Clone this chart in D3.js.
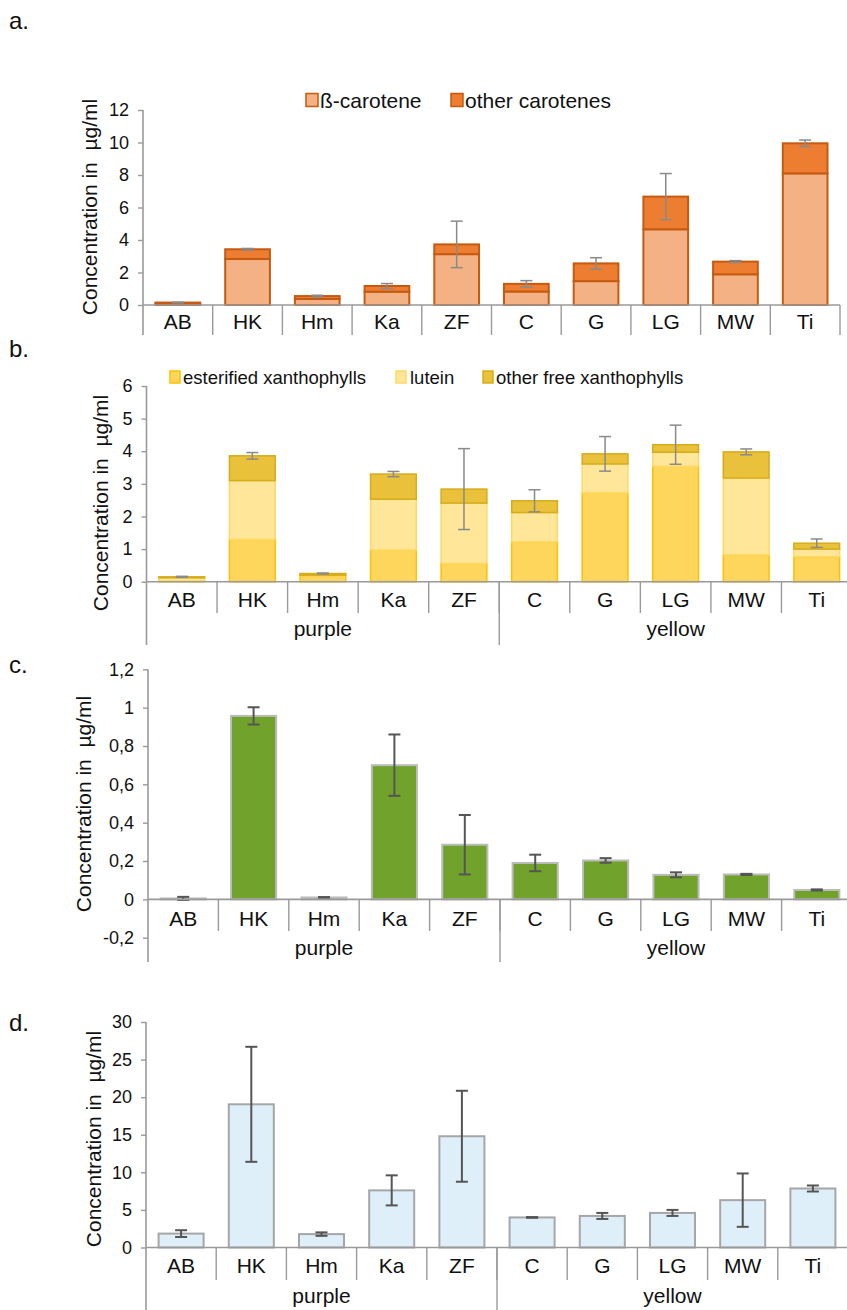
<!DOCTYPE html>
<html><head><meta charset="utf-8">
<script src="https://cdn.jsdelivr.net/npm/d3@7"></script>
<style>
body{margin:0;background:#fff}
svg{display:block;font-family:"Liberation Sans",Arial,sans-serif}
</style>
</head><body>
<svg id="chart" width="847" height="1310"></svg>
<script>
// ---------- DATA ----------
const categories = ["AB","HK","Hm","Ka","ZF","C","G","LG","MW","Ti"];
const groupNames = ["purple","yellow"];
const groupSizes = [5,5];

// a. carotenes (µg/ml)
const betaCarotene   = [0.08, 2.83, 0.37, 0.82, 3.13, 0.83, 1.47, 4.66, 1.89, 8.10];
const otherCarotenes = [0.07, 0.60, 0.18, 0.35, 0.60, 0.47, 1.09, 2.01, 0.78, 1.85];
const carotenesErr   = [0.02, 0.05, 0.05, 0.15, 1.43, 0.20, 0.35, 1.42, 0.06, 0.20];

// b. xanthophylls (µg/ml)
const esterifiedXanth = [0.02, 1.30, 0.18, 0.97, 0.56, 1.22, 2.72, 3.54, 0.82, 0.77];
const lutein          = [0.10, 1.80, 0.02, 1.56, 1.85, 0.90, 0.89, 0.43, 2.36, 0.23];
const otherFreeXanth  = [0.03, 0.76, 0.05, 0.77, 0.43, 0.36, 0.31, 0.23, 0.80, 0.18];
const xanthErr        = [0.015, 0.10, 0.015, 0.08, 1.24, 0.34, 0.53, 0.60, 0.09, 0.13];

// c. (µg/ml)
const panelCValues = [0.005, 0.957, 0.010, 0.700, 0.285, 0.190, 0.203, 0.128, 0.130, 0.049];
const panelCErr    = [0.008, 0.045, 0.002, 0.160, 0.155, 0.043, 0.012, 0.013, 0.003, 0.003];

// d. (µg/ml)
const panelDValues = [1.85, 19.05, 1.78, 7.60, 14.80, 4.00, 4.20, 4.60, 6.30, 7.85];
const panelDErr    = [0.45, 7.65, 0.23, 2.00, 6.05, 0.05, 0.40, 0.40, 3.55, 0.40];

const ticksA = [0,2,4,6,8,10,12];
const ticksB = [0,1,2,3,4,5,6];
const ticksC = [-0.2,0,0.2,0.4,0.6,0.8,1,1.2];
const ticksD = [0,5,10,15,20,25,30];

const yTitle = "Concentration in  \u00b5g/ml";

// ---------- DRAW ----------
const svg = d3.select("#chart");
svg.append("rect").attr("width",847).attr("height",1310).attr("fill","#fff");
const FONT = '"Liberation Sans",Arial,sans-serif';
const axisColor = "#9a9a9a";
const fmtComma = d => String(+d.toFixed(1)).replace(".", ",");

function panel(cfg){
  const g = svg.append("g");
  const x = d3.scaleBand().domain(categories)
    .range([cfg.x0, cfg.x0 + cfg.w]).paddingInner(0.33).paddingOuter(0.165);
  const y = d3.scaleLinear().domain(cfg.domain).range([cfg.yBottom, cfg.yTop]);
  const step = x.step();
  const edge = c => x(c) - step * x.paddingInner() / 2;

  // panel letter
  g.append("text").attr("x", 9).attr("y", cfg.letterY)
    .attr("font-size", 24).attr("fill","#111").text(cfg.letter);

  // y axis
  const ax = g.append("g").attr("transform", `translate(${cfg.x0},0)`)
    .call(d3.axisLeft(y).tickValues(cfg.ticks).tickSize(5).tickPadding(9).tickFormat(fmtComma));
  ax.attr("font-family", null).attr("font-size", null);
  ax.select(".domain").remove();
  ax.selectAll(".tick line").attr("stroke", axisColor).attr("stroke-width", 1.4);
  ax.selectAll(".tick text").attr("font-size", cfg.tickFont).attr("fill", "#111")
    .attr("font-family", FONT);

  const y0 = y(0);
  g.append("line").attr("x1", cfg.x0).attr("x2", cfg.x0)
    .attr("y1", cfg.yTop).attr("y2", cfg.groupBottom)
    .attr("stroke", axisColor).attr("stroke-width", 1.6);

  g.append("text")
    .attr("transform", `translate(${cfg.titleX},${cfg.titleY}) rotate(-90)`)
    .attr("text-anchor", "middle").attr("dominant-baseline", "central")
    .attr("font-size", 21).attr("fill", "#111")
    .style("white-space","pre").text(yTitle);

  cfg.drawBars(g, x, y);

  const cap = 6;
  const eg = g.append("g").attr("stroke", cfg.errColor).attr("stroke-width", cfg.errWidth);
  categories.forEach((c, i) => {
    const cx = x(c) + x.bandwidth() / 2;
    const m = cfg.totals[i], e = cfg.err[i];
    eg.append("line").attr("x1", cx).attr("x2", cx).attr("y1", y(m + e)).attr("y2", y(m - e));
    eg.append("line").attr("x1", cx - cap).attr("x2", cx + cap).attr("y1", y(m + e)).attr("y2", y(m + e));
    eg.append("line").attr("x1", cx - cap).attr("x2", cx + cap).attr("y1", y(m - e)).attr("y2", y(m - e));
  });

  g.append("line").attr("x1", cfg.x0).attr("x2", cfg.x0 + cfg.w)
    .attr("y1", y0).attr("y2", y0).attr("stroke", axisColor).attr("stroke-width", 1.6);

  categories.forEach((c, i) => {
    if (i > 0) g.append("line").attr("x1", edge(c)).attr("x2", edge(c))
      .attr("y1", y0).attr("y2", cfg.tickBottom).attr("stroke", axisColor).attr("stroke-width", 1.4);
    g.append("text").attr("x", x(c) + x.bandwidth() / 2).attr("y", cfg.catY)
      .attr("text-anchor", "middle").attr("font-size", 21).attr("fill", "#111").text(c);
  });
  g.append("line").attr("x1", cfg.x0 + cfg.w).attr("x2", cfg.x0 + cfg.w)
    .attr("y1", y0).attr("y2", cfg.groups ? cfg.groupBottom : cfg.tickBottom)
    .attr("stroke", axisColor).attr("stroke-width", 1.4);

  if (cfg.groups) {
    let start = 0;
    groupNames.forEach((name, gi) => {
      const first = categories[start];
      const last = categories[start + groupSizes[gi] - 1];
      const left = edge(first), right = edge(last) + step;
      if (gi > 0) g.append("line").attr("x1", left).attr("x2", left)
        .attr("y1", y0).attr("y2", cfg.groupBottom).attr("stroke", axisColor).attr("stroke-width", 1.4);
      g.append("text").attr("x", (left + right) / 2).attr("y", cfg.groupY)
        .attr("text-anchor", "middle").attr("font-size", 21).attr("fill", "#111").text(name);
      start += groupSizes[gi];
    });
  }
  return {x, y};
}

function stackedBars(keys, arrays, fills, strokes, strokeW){
  return (g, x, y) => {
    const rows = categories.map((c, i) => {
      const r = {cat: c};
      keys.forEach((k, j) => r[k] = arrays[j][i]);
      return r;
    });
    const series = d3.stack().keys(keys)(rows);
    series.forEach((s, j) => {
      g.append("g").selectAll("rect").data(s).join("rect")
        .attr("x", d => x(d.data.cat) + strokeW / 2)
        .attr("width", x.bandwidth() - strokeW)
        .attr("y", d => y(d[1]))
        .attr("height", d => Math.max(0, y(d[0]) - y(d[1])))
        .attr("fill", fills[j]).attr("stroke", strokes[j]).attr("stroke-width", strokeW);
    });
  };
}

function simpleBars(values, fill, stroke, strokeW){
  return (g, x, y) => {
    g.append("g").selectAll("rect").data(values).join("rect")
      .attr("x", (d, i) => x(categories[i]) + strokeW / 2)
      .attr("width", x.bandwidth() - strokeW)
      .attr("y", d => y(Math.max(0, d)))
      .attr("height", d => Math.abs(y(0) - y(d)))
      .attr("fill", fill).attr("stroke", stroke).attr("stroke-width", strokeW);
  };
}

function legend(items, yC, fontSize, sw, sh){
  const g = svg.append("g");
  items.forEach(it => {
    g.append("rect").attr("x", it.x).attr("y", yC - sh / 2).attr("width", sw).attr("height", sh)
      .attr("fill", it.fill).attr("stroke", it.stroke).attr("stroke-width", 1.5);
    g.append("text").attr("x", it.tx).attr("y", yC).attr("dominant-baseline", "central")
      .attr("font-size", fontSize).attr("fill", "#111").text(it.label);
  });
}

const cBetaFill = "#F4B183", cOtherFill = "#ED7D31", cCarStroke = "#C55A11";
const cEstFill = "#FFD65C", cEstStroke = "#FFC000";
const cLutFill = "#FFE699", cLutStroke = "#FFD966";
const cOfxFill = "#E9C13A", cOfxStroke = "#D6AC1A";

const sum = (...arrs) => categories.map((c, i) => arrs.reduce((s, a) => s + a[i], 0));

// a
panel({
  letter: "a.", letterY: 29, x0: 143, w: 697, yTop: 110, yBottom: 305, domain: [0, 12],
  ticks: ticksA, tickFont: 18, titleX: 89, titleY: 207,
  tickBottom: 335, groupBottom: 335, catY: 329, groups: false,
  totals: sum(betaCarotene, otherCarotenes), err: carotenesErr,
  errColor: "#8a8a8a", errWidth: 1.5,
  drawBars: stackedBars(["beta","other"], [betaCarotene, otherCarotenes],
    [cBetaFill, cOtherFill], [cCarStroke, cCarStroke], 2)
});
legend([
  {x: 306, tx: 320, fill: cBetaFill, stroke: cCarStroke, label: "\u00df-carotene"},
  {x: 451, tx: 465, fill: cOtherFill, stroke: cCarStroke, label: "other carotenes"}
], 100, 21, 12, 13);

// b
panel({
  letter: "b.", letterY: 357, x0: 146.5, w: 705.5, yTop: 386, yBottom: 581.7, domain: [0, 6],
  ticks: ticksB, tickFont: 18, titleX: 100, titleY: 503,
  tickBottom: 613, groupBottom: 645, catY: 607, groupY: 636, groups: true,
  totals: sum(esterifiedXanth, lutein, otherFreeXanth), err: xanthErr,
  errColor: "#8a8a8a", errWidth: 1.5,
  drawBars: stackedBars(["est","lut","ofx"], [esterifiedXanth, lutein, otherFreeXanth],
    [cEstFill, cLutFill, cOfxFill], [cEstStroke, cLutStroke, cOfxStroke], 1.5)
});
legend([
  {x: 170, tx: 183, fill: cEstFill, stroke: cEstStroke, label: "esterified xanthophylls"},
  {x: 396, tx: 410, fill: cLutFill, stroke: cLutStroke, label: "lutein"},
  {x: 483, tx: 496, fill: cOfxFill, stroke: cOfxStroke, label: "other free xanthophylls"}
], 377, 18.5, 10, 12);

// c
panel({
  letter: "c.", letterY: 673, x0: 148, w: 704, yTop: 669.3, yBottom: 937.7, domain: [-0.2, 1.2],
  ticks: ticksC, tickFont: 18, titleX: 83, titleY: 804,
  tickBottom: 931, groupBottom: 962, catY: 926, groupY: 955, groups: true,
  totals: panelCValues, err: panelCErr,
  errColor: "#555", errWidth: 2,
  drawBars: simpleBars(panelCValues, "#70A22C", "#BDBDBD", 2)
});

// d
panel({
  letter: "d.", letterY: 1031, x0: 146, w: 702, yTop: 1022, yBottom: 1247.5, domain: [0, 30],
  ticks: ticksD, tickFont: 18, titleX: 93, titleY: 1139,
  tickBottom: 1280, groupBottom: 1312, catY: 1273, groupY: 1303, groups: true,
  totals: panelDValues, err: panelDErr,
  errColor: "#555", errWidth: 2,
  drawBars: simpleBars(panelDValues, "#DEEFFA", "#A6A6A6", 2)
});
</script>
</body></html>
